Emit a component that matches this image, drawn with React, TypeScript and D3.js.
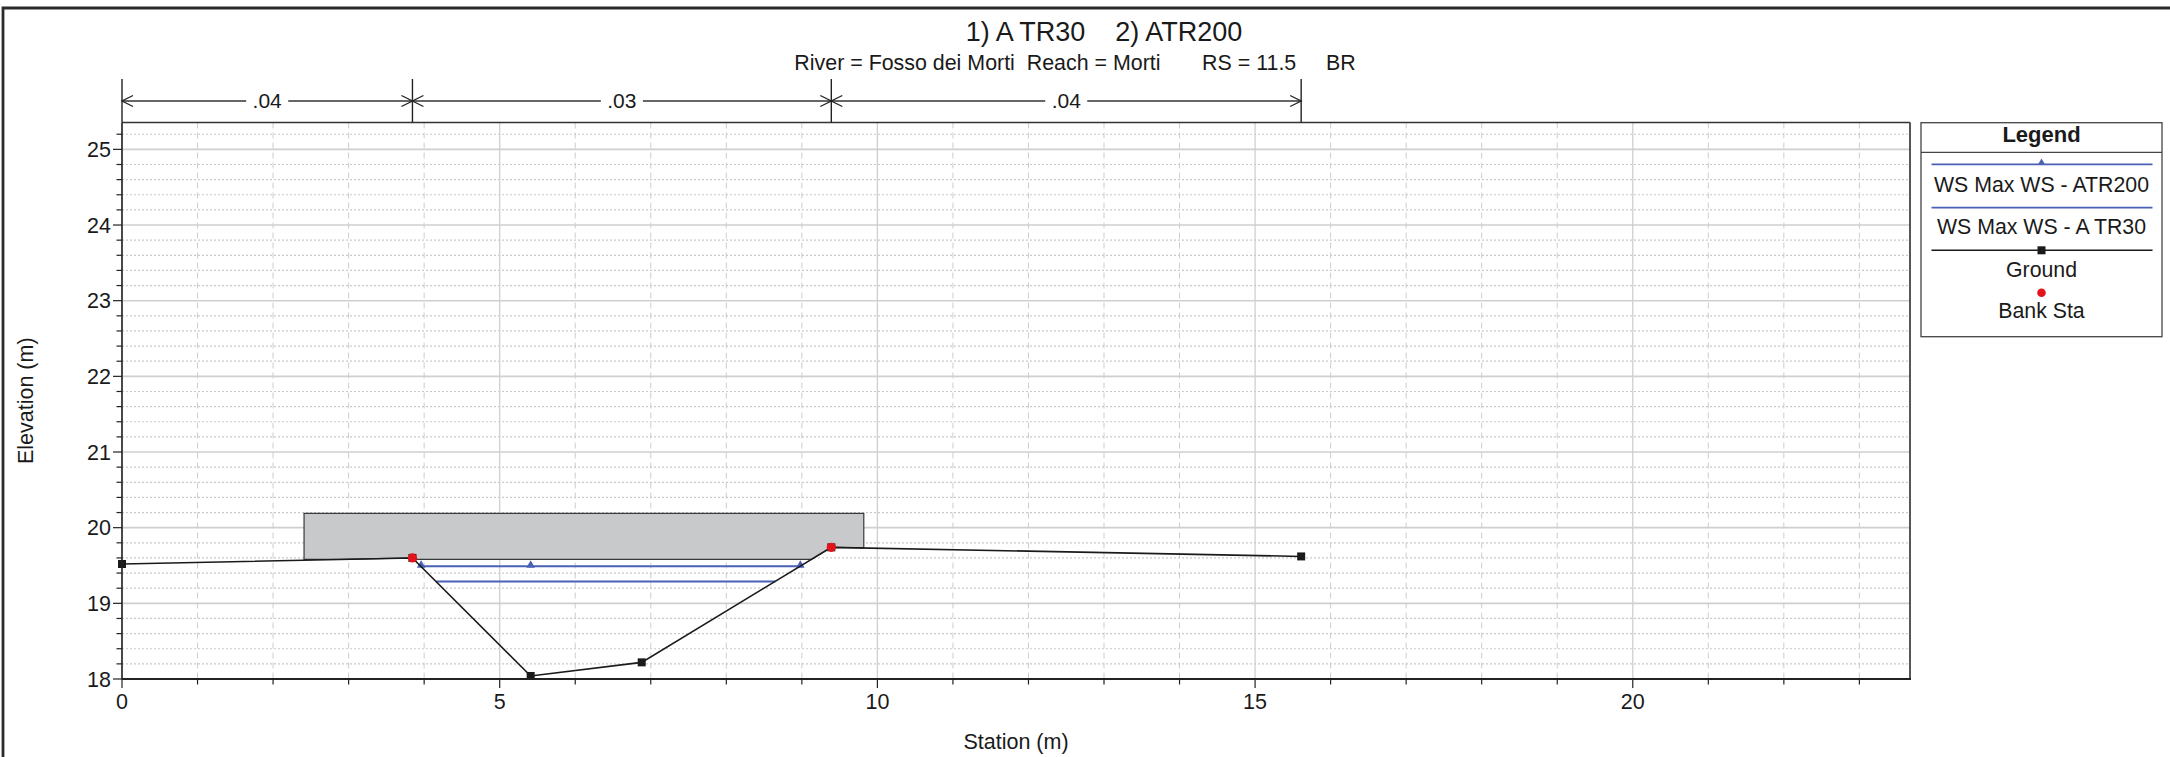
import React, { useEffect } from "react";
import * as d3 from "d3";

// ---------- data ----------
const groundStations = [0, 3.845, 5.41, 6.88, 9.39, 15.61];
const groundElev = [19.52, 19.6, 18.04, 18.22, 19.74, 19.62];
const bankStations = [3.845, 9.39];
const bankElev = [19.6, 19.74];
const wsATR200Stations = [3.96, 5.41, 8.98];
const wsATR200Elev = [19.49, 19.49, 19.49];
const wsATR30Stations = [4.16, 8.65];
const wsATR30Elev = [19.29, 19.29];
const deckStations = [2.41, 9.82];
const deckHighChord = [20.19, 20.19];
const deckLowChord = [19.58, 19.58];
const nStations = [0, 3.845, 9.39, 15.61];
const nValues = [".04", ".03", ".04"];
const xTickValues = [0, 5, 10, 15, 20];
const yTickValues = [18, 19, 20, 21, 22, 23, 24, 25];
const legendLabels = ["WS Max WS - ATR200", "WS Max WS - A TR30", "Ground", "Bank Sta"];
const titleText = "1) A TR30    2) ATR200";
const subtitleText = "River = Fosso dei Morti  Reach = Morti       RS = 11.5     BR";

// ---------- layout ----------
const W = 2170;
const H = 757;
const PL = 122;
const PR = 1910;
const PT = 122.5;
const PB = 679;
const FONT = "'Liberation Sans', Arial, Helvetica, sans-serif";
const WS_COLOR = "#4a62b6";

export default function App() {
  useEffect(() => {
    document.body.style.margin = "0";
  }, []);

  const x = d3.scaleLinear().domain([0, 23.67]).range([PL, PR]);
  const y = d3.scaleLinear().domain([18, 25.355]).range([PB, PT]);
  const groundAt = d3.scaleLinear().domain(groundStations).range(groundElev);
  const lowAt = d3.scaleLinear().domain(deckStations).range(deckLowChord);
  const highAt = d3.scaleLinear().domain(deckStations).range(deckHighChord);

  const xMinor = d3.range(0, 24, 1);
  const yMinor = d3.range(0, 37).map((i) => 18 + i * 0.2).filter((v) => v <= 25.35);

  // deck polygon: high chord on top, bottom = max(low chord, ground)
  const d0 = deckStations[0];
  const d1 = deckStations[deckStations.length - 1];
  let bx: number[] = [d0, d1];
  groundStations.forEach((s) => {
    if (s > d0 && s < d1) bx.push(s);
  });
  for (let i = 0; i < groundStations.length - 1; i++) {
    const s1 = groundStations[i], s2 = groundStations[i + 1];
    const a = Math.max(s1, d0), b = Math.min(s2, d1);
    if (a >= b) continue;
    const f1 = groundAt(a) - lowAt(a);
    const f2 = groundAt(b) - lowAt(b);
    if (f1 * f2 < 0) bx.push(a + (b - a) * (f1 / (f1 - f2)));
  }
  bx = bx.sort((p, q) => p - q);
  const deckPts: [number, number][] = [
    ...deckStations.map((s) => [s, highAt(s)] as [number, number]),
    ...bx
      .slice()
      .reverse()
      .map((s) => [s, Math.max(lowAt(s), groundAt(s))] as [number, number]),
  ];
  const lineGen = d3
    .line<[number, number]>()
    .x((d) => x(d[0]))
    .y((d) => y(d[1]));

  const groundPts = groundStations.map((s, i) => [s, groundElev[i]] as [number, number]);
  const ws200Pts = wsATR200Stations.map((s, i) => [s, wsATR200Elev[i]] as [number, number]);
  const ws30Pts = wsATR30Stations.map((s, i) => [s, wsATR30Elev[i]] as [number, number]);
  const tri = d3.symbol(d3.symbolTriangle, 32)();

  const nY = 101;
  const arrow = (tipX: number, dir: number) =>
    `M${tipX + dir * 11},${nY - 5.5} L${tipX},${nY} L${tipX + dir * 11},${nY + 5.5}`;

  // legend
  const LX0 = 1921, LX1 = 2162, LY0 = 122.7, LY1 = 336.7;
  const LC = (LX0 + LX1) / 2;

  return (
    <svg width={W} height={H} style={{ display: "block", position: "absolute", left: 0, top: 0 }} fontFamily={FONT}>
      <rect x={0} y={0} width={W} height={H} fill="#ffffff" />
      {/* outer frame */}
      <path d={`M3,${H} L3,8 L${W},8`} fill="none" stroke="#2b2b2b" strokeWidth={2.8} />

      {/* titles */}
      <text x={1104} y={41} textAnchor="middle" fontSize={27} fill="#1a1a1a" style={{ whiteSpace: "pre" }}>
        {titleText}
      </text>
      <text x={1075} y={70} textAnchor="middle" fontSize={21.4} fill="#1a1a1a" style={{ whiteSpace: "pre" }}>
        {subtitleText}
      </text>

      {/* grid minor */}
      {xMinor.filter((v) => v % 5 !== 0).map((v) => (
        <line key={"xm" + v} x1={x(v)} x2={x(v)} y1={PT} y2={PB} stroke="#cdcdcd" strokeWidth={1} strokeDasharray="6,4" />
      ))}
      {yMinor.filter((v) => Math.abs(v - Math.round(v)) > 0.01).map((v) => (
        <line key={"ym" + v.toFixed(1)} x1={PL} x2={PR} y1={y(v)} y2={y(v)} stroke="#c9c9c9" strokeWidth={1.2} strokeDasharray="2,2" />
      ))}
      {/* grid major */}
      {xTickValues.map((v) => (
        <line key={"xM" + v} x1={x(v)} x2={x(v)} y1={PT} y2={PB} stroke="#cfcfcf" strokeWidth={1.3} />
      ))}
      {yTickValues.map((v) => (
        <line key={"yM" + v} x1={PL} x2={PR} y1={y(v)} y2={y(v)} stroke="#cfcfcf" strokeWidth={1.6} />
      ))}

      {/* bridge deck */}
      <path d={lineGen(deckPts) + "Z"} fill="#c8c9cb" stroke="#3a3a3a" strokeWidth={1.2} />

      {/* water surfaces */}
      <path d={lineGen(ws30Pts) || ""} fill="none" stroke={WS_COLOR} strokeWidth={2} />
      <path d={lineGen(ws200Pts) || ""} fill="none" stroke={WS_COLOR} strokeWidth={2} />
      {ws200Pts.map((p, i) => (
        <path key={"t" + i} d={tri || ""} transform={`translate(${x(p[0])},${y(p[1]) - 1})`} fill={WS_COLOR} />
      ))}

      {/* ground */}
      <path d={lineGen(groundPts) || ""} fill="none" stroke="#1a1a1a" strokeWidth={1.6} />
      {groundPts.map((p, i) => (
        <rect key={"g" + i} x={x(p[0]) - 4} y={y(p[1]) - 4} width={8} height={8} fill="#1a1a1a" />
      ))}
      {bankStations.map((s, i) => (
        <circle key={"b" + i} cx={x(s)} cy={y(bankElev[i])} r={4.6} fill="#e3121b" />
      ))}

      {/* plot frame */}
      <line x1={PL} x2={PR} y1={PT} y2={PT} stroke="#333" strokeWidth={1.5} />
      <line x1={PR} x2={PR} y1={PT} y2={PB} stroke="#444" strokeWidth={1.8} />
      <line x1={PL} x2={PL} y1={PT} y2={PB} stroke="#222" strokeWidth={1.6} />
      <line x1={PL} x2={PR + 1} y1={PB} y2={PB} stroke="#222" strokeWidth={2.2} />

      {/* x axis ticks */}
      {xMinor.map((v) => (
        <line key={"xt" + v} x1={x(v)} x2={x(v)} y1={PB} y2={PB + (v % 5 === 0 ? 9 : 5.5)} stroke="#222" strokeWidth={1.2} />
      ))}
      {xTickValues.map((v) => (
        <text key={"xl" + v} x={x(v)} y={709} textAnchor="middle" fontSize={21.5} fill="#1a1a1a">
          {v}
        </text>
      ))}
      {/* y axis ticks */}
      {yMinor.map((v) => {
        const major = Math.abs(v - Math.round(v)) < 0.01;
        return (
          <line key={"yt" + v.toFixed(1)} x1={PL - (major ? 9 : 5.5)} x2={PL} y1={y(v)} y2={y(v)} stroke="#222" strokeWidth={1.2} />
        );
      })}
      {yTickValues.map((v) => (
        <text key={"yl" + v} x={111} y={y(v)} dy="0.36em" textAnchor="end" fontSize={21.5} fill="#1a1a1a">
          {v}
        </text>
      ))}

      {/* axis titles */}
      <text x={(PL + PR) / 2} y={749} textAnchor="middle" fontSize={21.5} fill="#1a1a1a">
        Station (m)
      </text>
      <text transform={`translate(33,${(PT + PB) / 2}) rotate(-90)`} textAnchor="middle" fontSize={21.5} fill="#1a1a1a">
        Elevation (m)
      </text>

      {/* Manning's n bar */}
      <line x1={x(nStations[0])} x2={x(nStations[nStations.length - 1])} y1={nY} y2={nY} stroke="#333" strokeWidth={1.3} />
      {nStations.map((s, i) => (
        <line key={"nv" + i} x1={x(s)} x2={x(s)} y1={79} y2={PT} stroke="#222" strokeWidth={1.4} />
      ))}
      {nStations.map((s, i) => (
        <g key={"na" + i} fill="none" stroke="#222" strokeWidth={1.3}>
          {i > 0 && <path d={arrow(x(s), -1)} />}
          {i < nStations.length - 1 && <path d={arrow(x(s), 1)} />}
        </g>
      ))}
      {nValues.map((v, i) => {
        const cx = (x(nStations[i]) + x(nStations[i + 1])) / 2;
        return (
          <g key={"nl" + i}>
            <rect x={cx - 21} y={nY - 10} width={42} height={20} fill="#fff" />
            <text x={cx} y={nY} dy="0.35em" textAnchor="middle" fontSize={21} fill="#1a1a1a">
              {v}
            </text>
          </g>
        );
      })}

      {/* legend */}
      <rect x={LX0} y={LY0} width={LX1 - LX0} height={LY1 - LY0} fill="#fff" stroke="#444" strokeWidth={1.3} />
      <line x1={LX0} x2={LX1} y1={152.3} y2={152.3} stroke="#444" strokeWidth={1.3} />
      <text x={LC} y={142} textAnchor="middle" fontSize={22} fontWeight="bold" fill="#1a1a1a">
        Legend
      </text>
      <line x1={1931.5} x2={2152.5} y1={164.3} y2={164.3} stroke={WS_COLOR} strokeWidth={1.8} />
      <path d={d3.symbol(d3.symbolTriangle, 22)() || ""} transform={`translate(${LC},${162.5})`} fill={WS_COLOR} />
      <text x={LC} y={191.5} textAnchor="middle" fontSize={21.3} fill="#1a1a1a">
        {legendLabels[0]}
      </text>
      <line x1={1931.5} x2={2152.5} y1={207.7} y2={207.7} stroke={WS_COLOR} strokeWidth={1.8} />
      <text x={LC} y={234} textAnchor="middle" fontSize={21.3} fill="#1a1a1a">
        {legendLabels[1]}
      </text>
      <line x1={1931.5} x2={2152.5} y1={250.3} y2={250.3} stroke="#1a1a1a" strokeWidth={1.6} />
      <rect x={LC - 4} y={246.3} width={8} height={8} fill="#1a1a1a" />
      <text x={LC} y={276.5} textAnchor="middle" fontSize={21.3} fill="#1a1a1a">
        {legendLabels[2]}
      </text>
      <circle cx={LC} cy={292.7} r={4.3} fill="#e3121b" />
      <text x={LC} y={318} textAnchor="middle" fontSize={21.3} fill="#1a1a1a">
        {legendLabels[3]}
      </text>
    </svg>
  );
}
